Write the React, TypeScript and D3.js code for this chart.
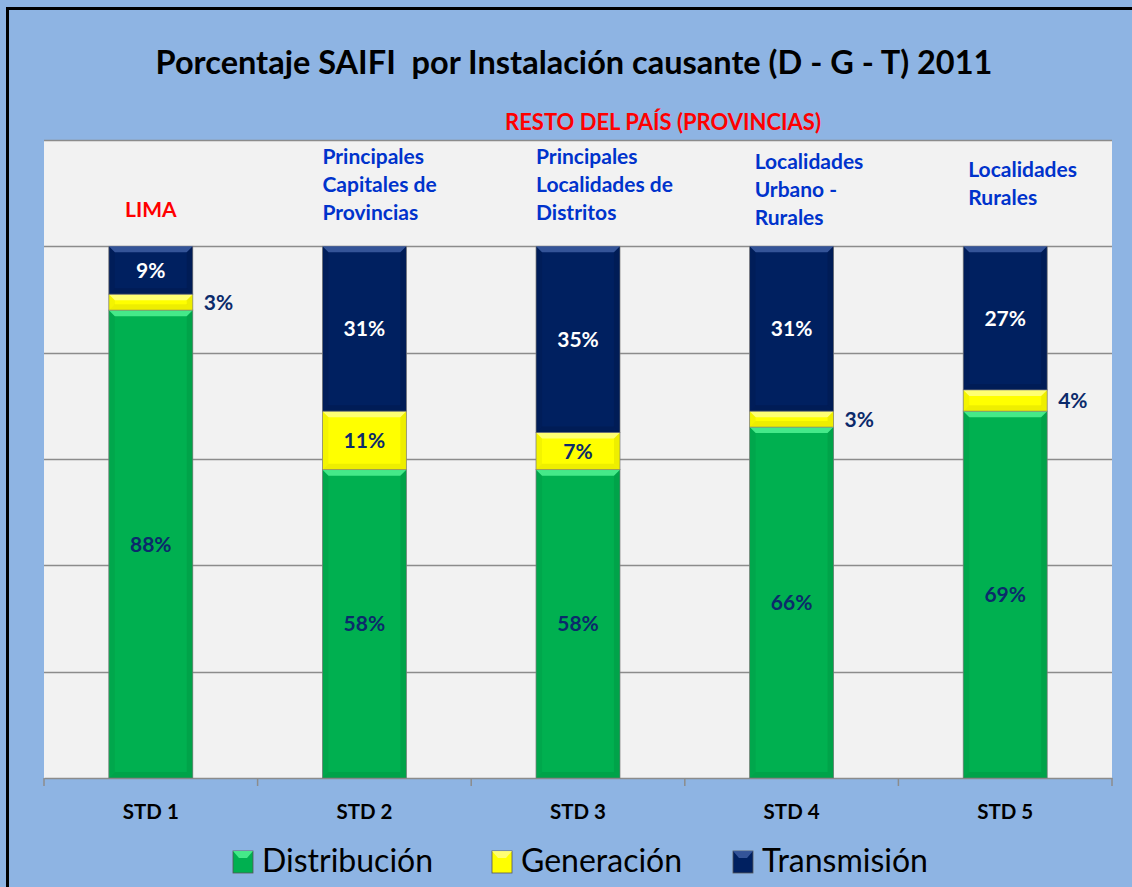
import * as d3 from "d3";
import { useEffect, useRef } from "react";

const categories = ["STD 1", "STD 2", "STD 3", "STD 4", "STD 5"];
const distribucion = [88, 58, 58, 66, 69];
const generacion = [3, 11, 7, 3, 4];
const transmision = [9, 31, 35, 31, 27];
const seriesNames = ["Distribución", "Generación", "Transmisión"];
const headers = [
  ["LIMA"],
  ["Principales", "Capitales de", "Provincias"],
  ["Principales", "Localidades de", "Distritos"],
  ["Localidades", "Urbano -", "Rurales"],
  ["Localidades", "Rurales"],
];
const yTicks = [0, 20, 40, 60, 80, 100, 120];

const W = 1132, H = 887;
const FONT = "Lato, 'Open Sans', sans-serif";

export default function App() {
  const ref = useRef<SVGSVGElement>(null);

  useEffect(() => {
    const svg = d3.select(ref.current);
    svg.selectAll("*").remove();

    const left = 44, right = 1112, top = 140, bottom = 778;
    const colors = ["#00B050", "#FFFF00", "#002060"];
    const hi = ["#4CF08F", "#FFFF80", "#3A5A9E"];
    const lo = ["#00853C", "#C8C800", "#001540"];
    const labelColor = "#0B2A6B";

    // background + frame
    svg.append("rect").attr("x", 0).attr("y", 0).attr("width", W).attr("height", H).attr("fill", "#8EB4E3");
    svg.append("rect").attr("x", 7.5).attr("y", 8.5).attr("width", W + 20).attr("height", H + 20)
      .attr("fill", "none").attr("stroke", "#000").attr("stroke-width", 3);

    svg.append("text").attr("x", 574).attr("y", 74).attr("text-anchor", "middle")
      .style("font", `bold 32.5px ${FONT}`).attr("fill", "#000")
      .attr("xml:space", "preserve")
      .text("Porcentaje SAIFI  por Instalación causante (D - G - T) 2011");

    svg.append("text").attr("x", 663).attr("y", 130).attr("text-anchor", "middle")
      .style("font", `bold 22px ${FONT}`).attr("fill", "#FF0000")
      .text("RESTO DEL PAÍS (PROVINCIAS)");

    const x = d3.scaleBand().domain(categories).range([left, right]).paddingInner(0.607).paddingOuter(0.3035);
    const y = d3.scaleLinear().domain([0, 120]).range([bottom, top]);

    svg.append("rect").attr("x", left).attr("y", top).attr("width", right - left).attr("height", bottom - top)
      .attr("fill", "#F2F2F2");
    svg.append("g").selectAll("line").data(yTicks.slice(1)).enter().append("line")
      .attr("x1", left).attr("x2", right)
      .attr("y1", d => Math.round(y(d)) + 0.5).attr("y2", d => Math.round(y(d)) + 0.5)
      .attr("stroke", "#8C8C8C").attr("stroke-width", 1.5);

    // x axis
    const axis = svg.append("g").attr("transform", `translate(0,${bottom})`)
      .call(d3.axisBottom(x).tickSize(0).tickPadding(0));
    axis.select(".domain").attr("stroke", "#8C8C8C").attr("stroke-width", 1.5);
    axis.selectAll(".tick text").attr("dy", 0).attr("y", 41)
      .style("font", `bold 20.5px ${FONT}`).attr("fill", "#000");
    const bounds = d3.range(categories.length + 1).map(i => left + i * x.step());
    axis.selectAll(".bound").data(bounds).enter().append("line")
      .attr("x1", d => d).attr("x2", d => d).attr("y1", 0).attr("y2", 8)
      .attr("stroke", "#8C8C8C").attr("stroke-width", 1.5);

    // stacked data
    const rows = categories.map((c, i) => ({ cat: c, d: distribucion[i], g: generacion[i], t: transmision[i] }));
    const stack = d3.stack<any>().keys(["d", "g", "t"])(rows);
    const bw = x.bandwidth();

    stack.forEach((layer, si) => {
      const g = svg.append("g");
      layer.forEach((seg: any) => {
        const x0 = x(seg.data.cat)!;
        const y0 = y(seg[1]), y1 = y(seg[0]);
        const h = y1 - y0;
        const b = Math.min(6, h / 2.5);
        g.append("rect").attr("x", x0).attr("y", y0).attr("width", bw).attr("height", h)
          .attr("fill", colors[si]).attr("stroke", "#7F7F7F").attr("stroke-width", 0.8);
        // bevel top highlight
        g.append("polygon")
          .attr("points", `${x0},${y0} ${x0 + bw},${y0} ${x0 + bw - b},${y0 + b} ${x0 + b},${y0 + b}`)
          .attr("fill", hi[si]).attr("opacity", 0.9);
        // bevel bottom shade
        g.append("polygon")
          .attr("points", `${x0},${y1} ${x0 + bw},${y1} ${x0 + bw - b},${y1 - b} ${x0 + b},${y1 - b}`)
          .attr("fill", lo[si]).attr("opacity", 0.3);
        // side shades
        g.append("polygon")
          .attr("points", `${x0},${y0} ${x0 + b},${y0 + b} ${x0 + b},${y1 - b} ${x0},${y1}`)
          .attr("fill", lo[si]).attr("opacity", 0.2);
        g.append("polygon")
          .attr("points", `${x0 + bw},${y0} ${x0 + bw - b},${y0 + b} ${x0 + bw - b},${y1 - b} ${x0 + bw},${y1}`)
          .attr("fill", lo[si]).attr("opacity", 0.3);

        const v = seg[1] - seg[0];
        const inside = v >= 5;
        g.append("text")
          .attr("x", inside ? x0 + bw / 2 : x0 + bw + 11)
          .attr("y", (y0 + y1) / 2 + 7.5)
          .attr("text-anchor", inside ? "middle" : "start")
          .style("font", `bold 21px ${FONT}`)
          .attr("fill", si === 2 ? "#FFFFFF" : labelColor)
          .text(`${v}%`);
      });
    });

    // category headers
    const firstLineY = [217, 164, 164, 169, 177];
    headers.forEach((lines, i) => {
      const cx = x(categories[i])!;
      const tx = i === 0 ? cx + bw / 2 : cx + (i >= 3 ? 5 : 0);
      const t = svg.append("text")
        .attr("x", tx)
        .attr("text-anchor", i === 0 ? "middle" : "start")
        .style("font", `bold 21px ${FONT}`)
        .attr("fill", i === 0 ? "#FF0000" : "#0033CC");
      lines.forEach((ln, j) => {
        t.append("tspan").attr("x", tx).attr("y", firstLineY[i] + j * 28).text(ln);
      });
    });

    // legend
    const legX = [233, 492, 733];
    seriesNames.forEach((name, i) => {
      const lg = svg.append("g").attr("transform", `translate(${legX[i]},851)`);
      lg.append("rect").attr("width", 20).attr("height", 22).attr("fill", colors[i]).attr("stroke", "#555").attr("stroke-width", 0.8);
      lg.append("polygon").attr("points", "0,0 20,0 14,7 6,7").attr("fill", hi[i]).attr("opacity", 0.9);
      lg.append("text").attr("x", 29).attr("y", 21)
        .style("font", `32px ${FONT}`).attr("fill", "#000").text(name);
    });
  }, []);

  return (
    <svg ref={ref} width={W} height={H}
      style={{ position: "absolute", left: 0, top: 0, display: "block" }} />
  );
}
